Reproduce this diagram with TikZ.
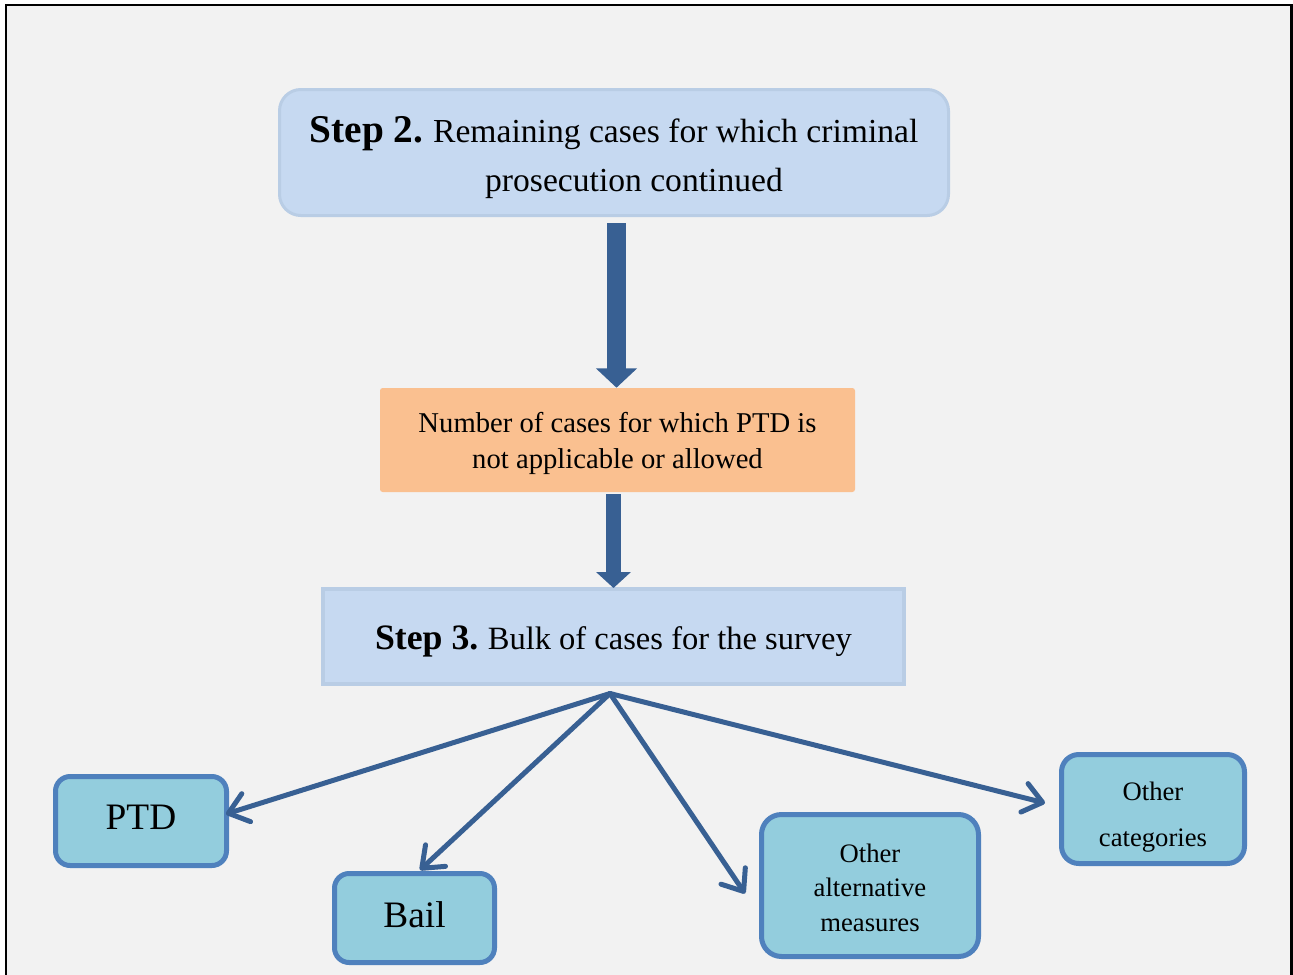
\documentclass[tikz,border=0pt]{standalone}
\usepackage{fontspec}
\setmainfont{Liberation Serif}
\usetikzlibrary{arrows.meta,calc}
\definecolor{bgc}{HTML}{F2F2F2}
\definecolor{stepfill}{HTML}{C6D9F1}
\definecolor{stepline}{HTML}{B9CDE5}
\definecolor{orangefill}{HTML}{FAC090}
\definecolor{darkarrow}{HTML}{386093}
\definecolor{leaffill}{HTML}{93CDDD}
\definecolor{leafline}{HTML}{4F81BD}
% text whose first baseline lies #1 above the node centre
\newcommand{\lines}[2]{\raisebox{#1}[0pt][0pt]{\begin{tabular}[t]{@{}c@{}}#2\end{tabular}}}
\tikzset{
  stepbox/.style={fill=stepfill, draw=stepline, line width=3pt*0.75, inner sep=0pt},
  numbox/.style={fill=orangefill, rounded corners=2pt, inner sep=0pt},
  leafbox/.style={fill=leaffill, draw=leafline, line width=5pt*0.75, rounded corners=11pt, inner sep=0pt},
  fanarrow/.style={draw=darkarrow, line width=3.75pt, line cap=round, line join=round,
     -{Straight Barb[length=14pt,width=22pt,line cap=round,line join=round]}},
}
\begin{document}
\begin{tikzpicture}[x=0.75pt,y=-0.75pt]
\useasboundingbox (0,0) rectangle (1293,975);
\clip (0,0) rectangle (1293,975);
\fill[white] (0,0) rectangle (1293,975);
\draw[fill=bgc, line width=2pt] (6,5) rectangle (1291.5,995);

\node[stepbox, rounded corners=16pt, minimum width=669*0.75pt, minimum height=126*0.75pt,
      font=\fontsize{25.2}{37}\selectfont] (s2) at (614,152.5)
  {\lines{7.6pt}{{\bfseries\fontsize{29.5}{37}\selectfont Step 2.}\hspace{-1pt} Remaining cases for which criminal\\ \hspace*{30pt}prosecution continued}};

\node[numbox, minimum width=475*0.75pt, minimum height=104*0.75pt,
      font=\fontsize{21.5}{27}\selectfont] (num) at (617.5,440)
  {\lines{6pt}{Number of cases for which PTD is\\ not applicable or allowed}};

\node[stepbox, line width=4pt*0.75, minimum width=581*0.75pt, minimum height=95*0.75pt,
      font=\fontsize{24.4}{27}\selectfont] (s3) at (613.5,636.5)
  {\lines{-9.4pt}{{\bfseries\fontsize{26.8}{27}\selectfont Step 3.}\hspace{-1pt} Bulk of cases for the survey}};

\node[leafbox, minimum width=171*0.75pt, minimum height=89*0.75pt,
      font=\fontsize{28}{30}\selectfont] (ptd) at (141,821) {\lines{-6pt}{PTD}};
\node[leafbox, minimum width=160*0.75pt, minimum height=89*0.75pt,
      font=\fontsize{28}{30}\selectfont] (bail) at (414.5,918) {\lines{-6.75pt}{Bail}};
\node[leafbox, rounded corners=15pt, minimum width=217*0.75pt, minimum height=142*0.75pt,
      font=\fontsize{20}{26}\selectfont] (alt) at (870,885.5) {\lines{17.6pt}{Other\\ alternative\\ measures}};
\node[leafbox, rounded corners=13pt, minimum width=183*0.75pt, minimum height=109*0.75pt,
      font=\fontsize{20}{34.5}\selectfont] (cat) at (1153,809) {\lines{6.75pt}{Other\\ categories}};

% block arrows
\draw[darkarrow, line width=14.25pt, -{Triangle[width=30pt,length=14.5pt]}, shorten <=4.5pt]
  (s2.south -| 616.5,0) -- (num.north -| 616.5,0);
\draw[darkarrow, line width=11.25pt, -{Triangle[width=25.5pt,length=12pt]}, shorten <=1.5pt]
  (num.south -| 613.5,0) -- ($(s3.north -| 613.5,0)+(0,1)$);

% fan
\coordinate (apex) at ($(s3.south)+(-3.5,7.5)$);
\draw[fanarrow] (apex) -- ($(ptd.east)+(-3,-7)$);
\draw[fanarrow] (apex) -- ($(bail.north)+(5.5,-1)$);
\draw[fanarrow] (apex) -- ($(alt.west)+(-14,8)$);
\draw[fanarrow] (apex) -- ($(cat.west)+(-14,-6)$);
\end{tikzpicture}
\end{document}
